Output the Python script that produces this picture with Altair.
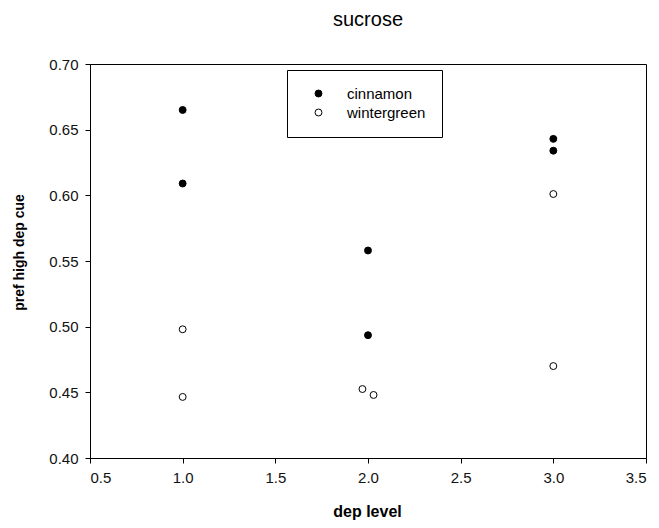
import altair as alt
import pandas as pd

# data
cinnamon_x = [1.0, 1.0, 2.0, 2.0, 3.0, 3.0]
cinnamon_y = [0.665, 0.609, 0.558, 0.4935, 0.643, 0.634]
wintergreen_x = [1.0, 1.0, 1.97, 2.03, 3.0, 3.0]
wintergreen_y = [0.498, 0.4465, 0.4525, 0.448, 0.601, 0.470]
series = ["cinnamon", "wintergreen"]
x_ticks = [0.5, 1.0, 1.5, 2.0, 2.5, 3.0, 3.5]
y_ticks = [0.40, 0.45, 0.50, 0.55, 0.60, 0.65, 0.70]

rows = []
for x, y in zip(cinnamon_x, cinnamon_y):
    rows.append({"dep": x, "pref": y, "flavor": series[0]})
for x, y in zip(wintergreen_x, wintergreen_y):
    rows.append({"dep": x, "pref": y, "flavor": series[1]})
df = pd.DataFrame(rows)

FONT = "Liberation Sans"

chart = (
    alt.Chart(df, title=alt.TitleParams("sucrose", fontSize=20, fontWeight="normal",
                                        font=FONT, color="black", offset=27, anchor="middle"))
    .mark_point(shape="circle", filled=True, stroke="black", strokeWidth=1, size=48, opacity=1)
    .encode(
        x=alt.X("dep:Q", scale=alt.Scale(domain=[0.5, 3.5], nice=False, zero=False),
                axis=alt.Axis(values=x_ticks, format=".1f", title="dep level",
                              titleX=277, titleY=58, titleBaseline="alphabetic",
                              titleFontSize=16)),
        y=alt.Y("pref:Q", scale=alt.Scale(domain=[0.4, 0.7], nice=False, zero=False),
                axis=alt.Axis(values=y_ticks, format=".2f", title="pref high dep cue",
                              titleX=-71, titleY=188, titleBaseline="middle", titleAngle=-90,
                              titleFontSize=14)),
        fill=alt.Fill("flavor:N", scale=alt.Scale(domain=series, range=["black", "white"]),
                      legend=alt.Legend(title=None, orient="none", legendX=197, legendY=6,
                                        strokeColor="black", fillColor="white", padding=16,
                                        symbolOffset=8, labelOffset=21, rowPadding=3,
                                        symbolStrokeColor="black", symbolStrokeWidth=1,
                                        symbolSize=48, labelFontSize=15, labelFont=FONT,
                                        labelColor="black")),
    )
    .properties(width=556, height=394,
                autosize=alt.AutoSizeParams(type="none"),
                padding={"left": 82, "top": 56, "right": 5, "bottom": 62})
    .configure_view(stroke="black", strokeWidth=1)
    .configure_axis(grid=False, domainColor="black", tickColor="black", tickSize=5,
                    labelFont=FONT, labelFontSize=15, labelColor="#111", labelPadding=7,
                    titleFont=FONT, titleFontWeight="bold", titleColor="black")
)

chart.save("out.html", embed_options={"renderer": "svg", "actions": False})
